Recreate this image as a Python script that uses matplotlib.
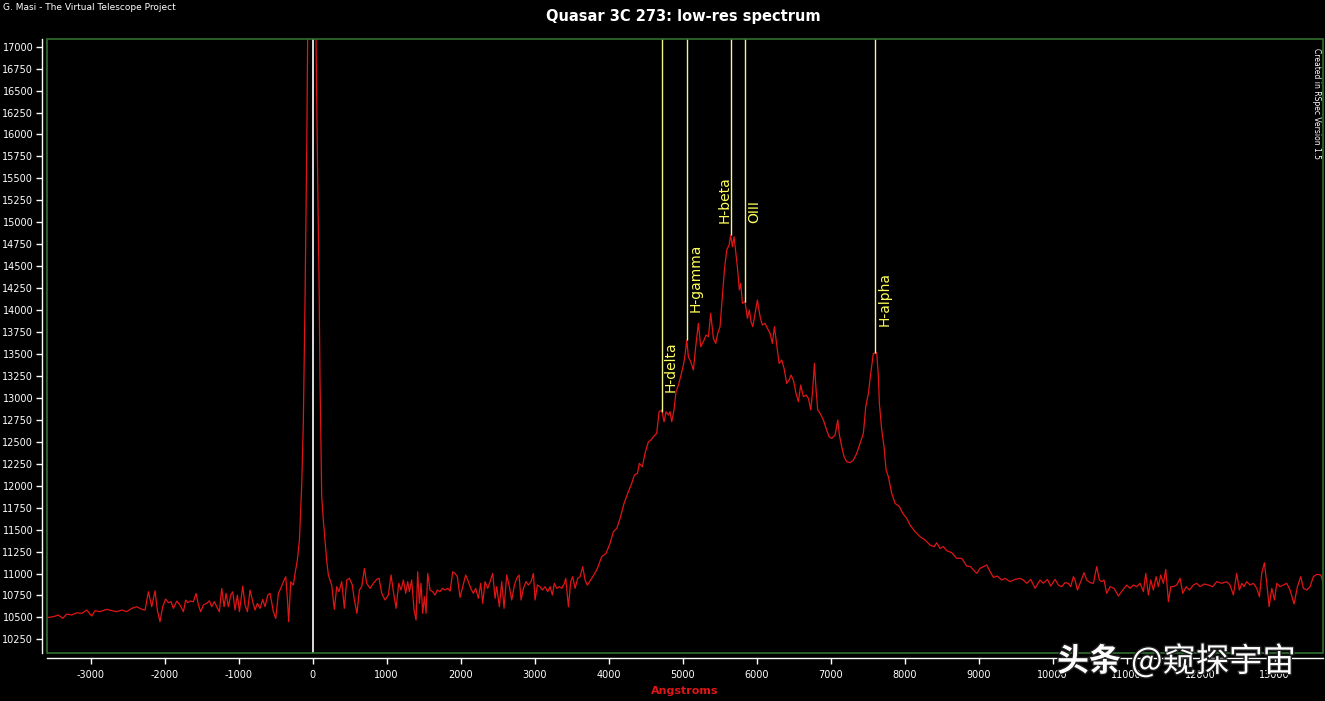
import numpy as np
import matplotlib
matplotlib.use('Agg')
import matplotlib.pyplot as plt
from matplotlib.patches import Rectangle
import matplotlib.patheffects as pe

plt.rcParams['axes.unicode_minus'] = False

# spectrum: (wavelength [A], intensity)
flat_start = [(-3570, 10500), (-3503, 10508), (-3435, 10527), (-3376, 10489), (-3322, 10538),
              (-3254, 10527), (-3186, 10553), (-3119, 10546), (-3051, 10584), (-2984, 10516),
              (-2939, 10577), (-2872, 10565), (-2781, 10592), (-2714, 10577), (-2646, 10565),
              (-2578, 10584), (-2511, 10565), (-2443, 10603), (-2376, 10622), (-2308, 10592)]

noise_left = [(-2263, 10584), (-2218, 10792), (-2173, 10622), (-2128, 10804), (-2097, 10584),
              (-2061, 10451), (-2025, 10622), (-1984, 10709), (-1948, 10667), (-1912, 10679),
              (-1880, 10603), (-1835, 10686), (-1790, 10641), (-1745, 10565), (-1714, 10698),
              (-1687, 10667), (-1655, 10686), (-1610, 10679), (-1574, 10773), (-1542, 10641),
              (-1511, 10565), (-1475, 10641), (-1430, 10660), (-1394, 10690), (-1362, 10622),
              (-1326, 10679), (-1295, 10622), (-1259, 10565), (-1227, 10830), (-1195, 10622),
              (-1168, 10773), (-1137, 10622), (-1105, 10754), (-1078, 10792), (-1047, 10584),
              (-1015, 10754), (-988, 10565), (-943, 10857), (-912, 10641), (-880, 10565),
              (-844, 10811), (-808, 10679), (-777, 10584), (-745, 10660), (-709, 10603),
              (-673, 10705), (-642, 10622), (-605, 10754), (-574, 10773), (-529, 10565),
              (-497, 10488), (-461, 10773), (-430, 10830), (-394, 10906), (-362, 10963),
              (-340, 10716), (-322, 10451), (-295, 10906), (-259, 10868), (-236, 11001),
              (-205, 11153)]

zero_order = [(-177, 11380), (-146, 12010), (-124, 12730), (-101, 14130), (-78, 15840),
              (-61, 17600), (-10, 18400), (40, 17600), (70, 15480), (88, 14350),
              (101, 13230), (124, 11880)]

noise_mid = [(146, 11609), (169, 11381), (191, 11153), (214, 10982), (259, 10869), (295, 10591),
             (327, 10850), (358, 10793), (394, 10907), (430, 10603), (462, 10926), (498, 10945),
             (538, 10869), (565, 10698), (601, 10546), (633, 10812), (665, 10850), (701, 11058),
             (732, 10888), (777, 10831), (822, 10888), (867, 10933), (899, 10945), (935, 10774),
             (980, 10698), (1025, 10755), (1061, 10983), (1093, 10793), (1129, 10603), (1165, 10888),
             (1196, 10812), (1228, 10926), (1259, 10774), (1286, 10907), (1309, 10793), (1340, 10926),
             (1372, 10584), (1399, 10470), (1421, 11020), (1444, 10660), (1466, 10888), (1489, 10546),
             (1512, 10736), (1534, 10546), (1557, 11001), (1588, 10812), (1624, 10793), (1656, 10755),
             (1687, 10812), (1723, 10793), (1755, 10831), (1791, 10812), (1827, 10831), (1860, 10800),
             (1894, 11020), (1926, 11001), (1957, 10964), (1993, 10728), (2030, 10850), (2070, 10983),
             (2106, 10907), (2138, 10831), (2174, 10774), (2205, 10831), (2241, 10717), (2273, 10888),
             (2300, 10660), (2331, 10907), (2367, 10831), (2399, 10907), (2435, 11001), (2467, 10717),
             (2489, 10850), (2525, 10622), (2557, 10907), (2588, 10603), (2624, 10983), (2660, 10850),
             (2692, 10698), (2728, 10869), (2759, 10945), (2791, 10983), (2818, 10698), (2850, 10831),
             (2886, 10907), (2917, 10869), (2953, 10907), (2985, 11001), (3007, 10698), (3039, 10869),
             (3075, 10850), (3106, 10812), (3142, 10850), (3178, 10793), (3210, 10850), (3241, 10755),
             (3268, 10888), (3300, 10831), (3336, 10850), (3368, 10831), (3404, 10888), (3422, 10945),
             (3458, 10622), (3489, 10907), (3516, 10964), (3548, 10831), (3584, 10945)]

bump = [(3615, 10963), (3651, 11077), (3683, 10925), (3714, 10868), (3773, 10944), (3840, 11039),
        (3908, 11191), (3966, 11229), (4020, 11343), (4066, 11476), (4111, 11514), (4156, 11628),
        (4210, 11799), (4268, 11932), (4313, 12026), (4349, 12121), (4390, 12140), (4417, 12254),
        (4457, 12216), (4493, 12368), (4539, 12501), (4575, 12520), (4606, 12558), (4651, 12596),
        (4683, 12843), (4719, 12862), (4750, 12729), (4777, 12843), (4809, 12805), (4831, 12843),
        (4854, 12729), (4885, 12862), (4912, 13071), (4944, 13146), (4980, 13260), (5012, 13374),
        (5034, 13488), (5057, 13659), (5079, 13469), (5111, 13412), (5147, 13317), (5178, 13583),
        (5214, 13849), (5246, 13583), (5282, 13640), (5318, 13716), (5350, 13697), (5381, 13963),
        (5417, 13678), (5449, 13621), (5476, 13735), (5507, 13811), (5539, 14153), (5566, 14456),
        (5597, 14684), (5629, 14741), (5651, 14855), (5674, 14722), (5696, 14836), (5719, 14665),
        (5741, 14494), (5768, 14229), (5786, 14305), (5809, 14077), (5845, 14096), (5877, 13906),
        (5903, 14001), (5926, 13868), (5949, 13811), (5980, 13963), (6012, 14115), (6048, 13925),
        (6079, 13830), (6115, 13849), (6147, 13792), (6183, 13735), (6214, 13621), (6242, 13811),
        (6273, 13602), (6305, 13393), (6341, 13431), (6372, 13336), (6408, 13165), (6440, 13203),
        (6467, 13260), (6498, 13203), (6534, 13052), (6566, 12957), (6597, 13146), (6633, 13014),
        (6669, 13033), (6701, 12995), (6733, 12862), (6759, 13090), (6782, 13393), (6805, 13090),
        (6827, 12862), (6859, 12824), (6904, 12748), (6940, 12653), (6980, 12558), (7016, 12539),
        (7061, 12577), (7098, 12748), (7120, 12577), (7151, 12444), (7183, 12330), (7219, 12273),
        (7264, 12262), (7309, 12292), (7354, 12368), (7399, 12482), (7444, 12596), (7476, 12900),
        (7512, 13052), (7543, 13279), (7579, 13507), (7624, 13515), (7647, 13241), (7660, 12938),
        (7692, 12634), (7723, 12444), (7751, 12178), (7782, 12102), (7827, 11912), (7872, 11799),
        (7931, 11761), (7976, 11685), (8030, 11628), (8075, 11552), (8143, 11476), (8210, 11419),
        (8278, 11381), (8345, 11324), (8399, 11305), (8435, 11350), (8480, 11286)]

noise_right = [(8525, 11306), (8570, 11260), (8638, 11237), (8705, 11173), (8773, 11173), (8840, 11085),
               (8894, 11078), (8930, 11040), (8976, 11002), (9021, 11059), (9111, 11097), (9156, 11021),
               (9201, 10956), (9255, 10971), (9313, 10926), (9358, 10945), (9426, 10907), (9494, 10933),
               (9561, 10945), (9606, 10926), (9651, 10888), (9705, 10933), (9764, 10831), (9831, 10926),
               (9876, 10888), (9931, 10933), (9976, 10857), (10034, 10933), (10079, 10869), (10124, 10850),
               (10169, 10896), (10214, 10888), (10246, 10850), (10282, 10964), (10304, 10926), (10336, 10812),
               (10372, 10888), (10426, 11009), (10462, 10926), (10507, 10896), (10552, 10888), (10597, 11078),
               (10633, 10926), (10665, 10907), (10696, 10926), (10732, 10774), (10778, 10850), (10832, 10831),
               (10890, 10744), (10949, 10812), (11003, 10869), (11048, 10831), (11093, 10869), (11138, 10850),
               (11183, 10888), (11228, 10793), (11260, 11002), (11296, 10755), (11327, 10926), (11363, 10812),
               (11399, 10964), (11431, 10850), (11462, 10983), (11498, 10888), (11530, 11047), (11566, 10679),
               (11598, 10850), (11634, 10850), (11679, 10869), (11724, 10945), (11760, 10774), (11805, 10850),
               (11850, 10812), (11904, 10869), (11949, 10888), (11994, 10850), (12048, 10880), (12107, 10869),
               (12165, 10850), (12219, 10907), (12287, 10888), (12354, 10907), (12399, 10869), (12444, 10755),
               (12489, 11002), (12525, 10812), (12557, 10888), (12588, 10850), (12624, 10907), (12669, 10869),
               (12714, 10888), (12760, 10831), (12796, 10736), (12827, 11002), (12863, 11123), (12895, 10888),
               (12927, 10622), (12963, 10831), (12999, 10698), (13030, 10888), (13075, 10850), (13120, 10869),
               (13165, 10888), (13210, 10812), (13264, 10653), (13309, 10850), (13354, 10964), (13390, 10831),
               (13435, 10812), (13480, 10850), (13525, 10964), (13571, 10990), (13625, 10983), (13661, 10888)]

# marked emission lines
line_names = ['H-delta', 'H-gamma', 'H-beta', 'OIII', 'H-alpha']
line_waves = [4719, 5057, 5651, 5849, 7605]
line_ends = [12843, 13659, 14855, 14096, 13515]
label_y = [13067, 13978, 14990, 14990, 13818]
label_side = ['right', 'right', 'left', 'right', 'right']

xticks = np.arange(-3000, 14000, 1000)
yticks = np.arange(10250, 17001, 250)

spec = np.array(flat_start + noise_left + zero_order + noise_mid + bump + noise_right)

W, H = 1325, 701
fig = plt.figure(figsize=(W / 100, H / 100), dpi=100, facecolor='black')
ax = fig.add_axes([47.3 / W, 48.3 / H, (1323 - 47.3) / W, (652.7 - 38.7) / H])
ax.set_facecolor('black')

ax.plot(spec[:, 0], spec[:, 1], color='#e01515', lw=0.9, zorder=3)
ax.axvline(0, color='white', lw=1.2, zorder=4)

for name, wl, yend, ly, side in zip(line_names, line_waves, line_ends, label_y, label_side):
    ax.vlines(wl, yend, 17200, color='#f4f48a', lw=1.0, zorder=4)
    if side == 'right':
        ax.annotate(name, (wl, ly), xytext=(1.5, 0), textcoords='offset points',
                    rotation=90, ha='left', va='bottom', color='#ffff5a', fontsize=10)
    else:
        ax.annotate(name, (wl, ly), xytext=(0.5, 0), textcoords='offset points',
                    rotation=90, ha='right', va='bottom', color='#ffff5a', fontsize=10)

ax.set_xlim(-3584, 13655)
ax.set_ylim(10098, 17091)

# white axes detached from the green frame
for s in ['top', 'right']:
    ax.spines[s].set_visible(False)
for s in ['left', 'bottom']:
    ax.spines[s].set_color('white')
    ax.spines[s].set_position(('outward', 3.6))
    ax.spines[s].set_linewidth(1.0)
ax.add_patch(Rectangle((0, 0), 1, 1, transform=ax.transAxes, fill=False,
                       edgecolor='#2f6f2f', lw=1.2, clip_on=False, zorder=5))

ax.set_xticks(xticks)
ax.set_yticks(yticks)
ax.tick_params(colors='white', length=4.5, width=1, labelsize=7, pad=2)
ax.tick_params(axis='x', pad=4)

ax.set_xlabel('Angstroms', color='#e01515', fontsize=8, weight='bold', labelpad=5)

fig.text(683 / W, 1 - 16 / H, 'Quasar 3C 273: low-res spectrum', color='white',
         fontsize=10.5, weight='bold', ha='center', va='center')
fig.text(3 / W, 1 - 7 / H, 'G. Masi - The Virtual Telescope Project', color='white',
         fontsize=6.5, ha='left', va='center')
fig.text(1316 / W, 1 - 48 / H, 'Created in RSpec Version 1.5', color='white',
         fontsize=5.5, rotation=-90, ha='center', va='top')

# watermark over the right part of the x axis
shadow = [pe.withStroke(linewidth=2, foreground='#202020')]
fig.text(1057 / W, 1 - 662 / H, '头条', color='white', fontsize=23, weight='bold',
         family=['Noto Sans CJK SC', 'DejaVu Sans'], ha='left', va='center', path_effects=shadow)
fig.text(1131 / W, 1 - 662 / H, '@窥探宇宙', color='white', fontsize=24,
         family=['Noto Sans CJK SC', 'DejaVu Sans'], ha='left', va='center', path_effects=shadow)

fig.savefig('out.png', dpi=100, facecolor='black')
